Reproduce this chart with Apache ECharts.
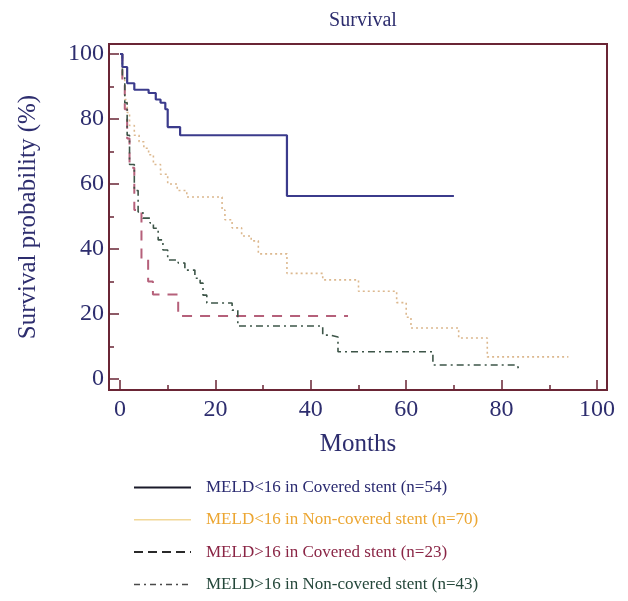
<!DOCTYPE html>
<html><head><meta charset="utf-8">
<script src="https://cdn.jsdelivr.net/npm/echarts@6/dist/echarts.min.js"></script>
<style>html,body{margin:0;padding:0;background:#fff}#c{width:628px;height:601px}</style>
</head><body><div id="c"></div>
<script>
const seriesNames = [
  'MELD<16 in Covered stent (n=54)',
  'MELD<16 in Non-covered stent (n=70)',
  'MELD>16 in Covered stent (n=23)',
  'MELD>16 in Non-covered stent (n=43)'
];
const xTickLabels = [0, 20, 40, 60, 80, 100];
const xMinorTicks = [10, 30, 50, 70, 90];
const yTickLabels = [0, 20, 40, 60, 80, 100];
const yMinorTicks = [10, 30, 50, 70, 90];

const lowCovMonths = [0, 0.5, 1.5, 3, 6, 7.5, 8.5, 9.5, 10, 12.6, 35, 70];
const lowCovSurv   = [100, 96, 91, 89, 88, 86, 85, 83, 77.5, 75, 56.3, 56.3];

const lowNonMonths = [0, 0.5, 1, 1.5, 2, 3, 4, 5, 6, 7, 8.5, 10, 12, 14, 21.4, 22, 23.5, 25.5, 27.5, 29, 35, 42.5, 50, 58, 60, 61, 71, 77, 94];
const lowNonSurv   = [100, 92, 86, 82, 78, 75, 73, 71, 69, 66, 63, 60, 58, 56, 52, 49, 46.5, 44, 42.5, 38.5, 32.5, 30.5, 27, 23.5, 19, 15.7, 12.6, 6.8, 6.8];

const highCovMonths = [0, 0.5, 1, 1.5, 2, 3, 4.5, 5.9, 6.9, 12.2, 47.8];
const highCovSurv   = [100, 91, 83, 74, 65, 52, 37, 30, 26, 19.4, 19.4];

const highNonMonths = [0, 0.5, 1, 1.5, 2, 3, 3.8, 4.8, 6.3, 7, 8, 9, 10, 12.2, 13.6, 15.7, 16.8, 17.4, 18.2, 23.5, 24.7, 42.5, 44, 45.7, 65.6, 83.3, 83.6];
const highNonSurv   = [100, 93, 85, 75, 66, 58, 51.4, 49.5, 48, 46.4, 42.8, 39.7, 36.6, 35.7, 33.5, 31, 29.5, 25.8, 23.4, 21.2, 16.3, 13.5, 12.9, 8.4, 4.3, 4.3, 2.8];

function pairs(xs, ys) { return xs.map((x, i) => [x, ys[i]]); }

const FONT = '"Liberation Serif", "DejaVu Serif", serif';
const NAVY = '#2d2d6e';
const FRAME = '#6a2535';
// axis ranges chosen so the frame sits a little outside 0..100
const X_MIN = -2.306, X_MAX = 102.096;
const Y_MIN = -3.385, Y_MAX = 103.077;

const tickStyle = {color: FRAME, width: 1.5};
const hiddenLine = {show: false, onZero: false};

const chart = echarts.init(document.getElementById('c'), null, {renderer: 'canvas'});
chart.setOption({
  animation: false,
  backgroundColor: '#ffffff',
  title: {
    text: 'Survival', left: 358, top: 6, textAlign: 'center',
    textStyle: {fontFamily: FONT, fontSize: 20, fontWeight: 'normal', color: NAVY}
  },
  grid: {left: 109, right: 21, top: 44, bottom: 211, show: true, borderColor: FRAME, borderWidth: 2, backgroundColor: 'transparent'},
  xAxis: [
    {
      type: 'value', min: X_MIN, max: X_MAX, position: 'bottom',
      name: 'Months', nameLocation: 'middle', nameGap: 42,
      nameTextStyle: {fontFamily: FONT, fontSize: 25, color: NAVY},
      axisLine: hiddenLine,
      axisTick: {show: true, inside: true, length: 10, customValues: xTickLabels, lineStyle: tickStyle},
      splitLine: {show: false},
      axisLabel: {fontFamily: FONT, fontSize: 24, color: NAVY, margin: 8, customValues: xTickLabels}
    },
    {
      type: 'value', min: X_MIN, max: X_MAX, position: 'bottom',
      axisLine: hiddenLine,
      axisTick: {show: true, inside: true, length: 5, customValues: xMinorTicks, lineStyle: tickStyle},
      splitLine: {show: false},
      axisLabel: {show: false}
    }
  ],
  yAxis: [
    {
      type: 'value', min: Y_MIN, max: Y_MAX, position: 'left',
      name: 'Survival probability (%)', nameLocation: 'middle', nameGap: 68, nameRotate: 90,
      nameTextStyle: {fontFamily: FONT, fontSize: 25, color: NAVY},
      axisLine: hiddenLine,
      axisTick: {show: true, inside: true, length: 10, customValues: yTickLabels, lineStyle: tickStyle},
      splitLine: {show: false},
      axisLabel: {fontFamily: FONT, fontSize: 24, color: NAVY, margin: 5, customValues: yTickLabels}
    },
    {
      type: 'value', min: Y_MIN, max: Y_MAX, position: 'left',
      axisLine: hiddenLine,
      axisTick: {show: true, inside: true, length: 5, customValues: yMinorTicks, lineStyle: tickStyle},
      splitLine: {show: false},
      axisLabel: {show: false}
    }
  ],
  legend: {
    orient: 'vertical', left: 133, top: 479, padding: 0, itemWidth: 57, itemHeight: 14, itemGap: 15.3,
    itemStyle: {opacity: 0},
    textStyle: {fontFamily: FONT, fontSize: 17, padding: [0, 0, 0, 10]},
    data: [
      {name: seriesNames[0], lineStyle: {color: '#1a1a2a', width: 2, type: 'solid'}, textStyle: {color: '#2a2a70'}},
      {name: seriesNames[1], lineStyle: {color: '#f2d898', width: 1.5, type: 'solid'}, textStyle: {color: '#eca632'}},
      {name: seriesNames[2], lineStyle: {color: '#2a2a2a', width: 2, type: [9, 5]}, textStyle: {color: '#8a2545'}},
      {name: seriesNames[3], lineStyle: {color: '#4a4a4a', width: 1.5, type: [6, 4, 2, 4]}, textStyle: {color: '#24473a'}}
    ]
  },
  series: [
    {name: seriesNames[0], type: 'line', step: 'end', symbol: 'none', data: pairs(lowCovMonths, lowCovSurv),
     lineStyle: {color: '#3b3b8c', width: 2.2}, itemStyle: {color: '#3b3b8c'}, z: 5},
    {name: seriesNames[1], type: 'line', step: 'end', symbol: 'none', data: pairs(lowNonMonths, lowNonSurv),
     lineStyle: {color: '#dcb88e', width: 1.6, type: [2, 3]}, itemStyle: {color: '#dcb88e'}, z: 3},
    {name: seriesNames[2], type: 'line', step: 'end', symbol: 'none', data: pairs(highCovMonths, highCovSurv),
     lineStyle: {color: '#b5607a', width: 2, type: [10, 8]}, itemStyle: {color: '#b5607a'}, z: 4},
    {name: seriesNames[3], type: 'line', step: 'end', symbol: 'none', data: pairs(highNonMonths, highNonSurv),
     lineStyle: {color: '#3d5548', width: 1.6, type: [7, 4, 2, 4]}, itemStyle: {color: '#3d5548'}, z: 4}
  ]
});
</script></body></html>
